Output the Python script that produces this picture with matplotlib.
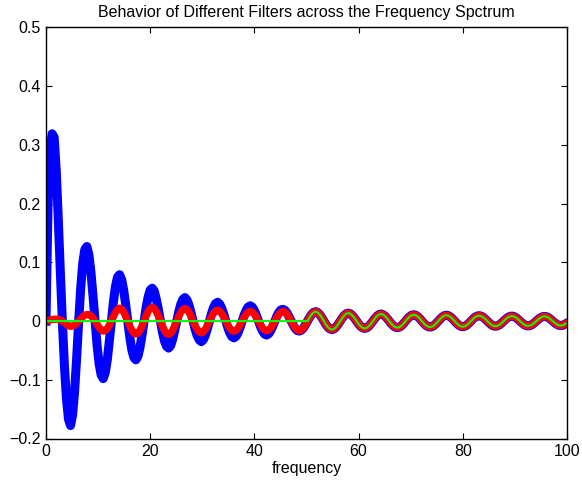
import numpy as np
import matplotlib
matplotlib.use("Agg")
import matplotlib.pyplot as plt

plt.rcParams['font.family'] = ['Liberation Sans', 'DejaVu Sans']

# sample positions along the frequency axis
freq = np.linspace(0, 100, 256)

# blue filter, first half (x = 0 .. ~50)
blue_head = [
    0, 0.20, 0.29, 0.319, 0.313, 0.257, 0.175, 0.085,
    0, -0.075, -0.132, -0.167, -0.178, -0.160, -0.120, -0.063,
    0, 0.057, 0.099, 0.122, 0.127, 0.113, 0.083, 0.043,
    0, -0.041, -0.073, -0.092, -0.098, -0.088, -0.066, -0.034,
    0, 0.033, 0.059, 0.075, 0.079, 0.071, 0.053, 0.028,
    0, -0.027, -0.049, -0.062, -0.066, -0.060, -0.045, -0.024,
    0, 0.023, 0.041, 0.053, 0.056, 0.051, 0.037, 0.020,
    0, -0.019, -0.034, -0.043, -0.046, -0.042, -0.031, -0.016,
    0, 0.016, 0.029, 0.037, 0.040, 0.036, 0.027, 0.014,
    0, -0.014, -0.025, -0.032, -0.035, -0.032, -0.024, -0.013,
    0, 0.0126, 0.023, 0.0298, 0.032, 0.0291, 0.0219, 0.0117,
    0, -0.0113, -0.0205, -0.0266, -0.0285, -0.0261, -0.0198, -0.0106,
    0, 0.0103, 0.0187, 0.0242, 0.026, 0.0237, 0.0179, 0.0096,
    0, -0.0094, -0.0172, -0.0222, -0.0238, -0.0217, -0.0164, -0.0088,
    0, 0.0084, 0.0151, 0.019, 0.020, 0.0181, 0.0136, 0.0072,
    0, -0.0069, -0.0126, -0.0162, -0.017, -0.0155, -0.0117, -0.0063,
]

# red filter, first half
red_head = [
    0, 0.0008, 0.0018, 0.0028, 0.003, 0.0032, 0.0028, 0.0019,
    0, -0.0027, -0.0057, -0.0079, -0.009, -0.0086, -0.0068, -0.0038,
    0, 0.004, 0.0076, 0.0101, 0.011, 0.0109, 0.0088, 0.0051,
    0, -0.0057, -0.011, -0.0151, -0.017, -0.0162, -0.0127, -0.0071,
    0, 0.0077, 0.0148, 0.0199, 0.022, 0.0203, 0.0156, 0.0084,
    0, -0.0084, -0.0156, -0.0203, -0.022, -0.0205, -0.0158, -0.0087,
    0, 0.0088, 0.0164, 0.0215, 0.0233, 0.0214, 0.0163, 0.0088,
    0, -0.0088, -0.0162, -0.0212, -0.0228, -0.0209, -0.0158, -0.0085,
    0, 0.0083, 0.0153, 0.0199, 0.0214, 0.0196, 0.0148, 0.008,
    0, -0.0079, -0.0144, -0.0187, -0.020, -0.0183, -0.0139, -0.0074,
    0, 0.0073, 0.0133, 0.0173, 0.0185, 0.017, 0.0129, 0.0069,
    0, -0.0069, -0.0126, -0.0163, -0.0175, -0.0161, -0.0122, -0.0066,
    0, 0.0065, 0.0119, 0.0155, 0.0168, 0.0155, 0.0118, 0.0064,
    0, -0.0064, -0.0117, -0.0153, -0.0166, -0.0153, -0.0117, -0.0064,
    0, 0.0063, 0.0117, 0.0152, 0.0165, 0.0152, 0.0117, 0.0063,
    0, -0.0063, -0.0117, -0.0152, -0.0165, -0.0152, -0.0117, -0.0063,
]

# common tail shared by all three filters (x = ~50 .. 100)
tail = [
    0, 0.0062, 0.0115, 0.0149, 0.016, 0.0146, 0.011, 0.0059,
    0, -0.0057, -0.0105, -0.0135, -0.0145, -0.0132, -0.010, -0.0054,
    0, 0.0053, 0.0097, 0.0126, 0.0135, 0.0124, 0.0093, 0.005,
    0, -0.0049, -0.009, -0.0116, -0.0125, -0.0115, -0.0087, -0.0047,
    0, 0.0046, 0.0085, 0.0111, 0.012, 0.0109, 0.0083, 0.0044,
    0, -0.0044, -0.008, -0.0104, -0.0112, -0.0103, -0.0078, -0.0042,
    0, 0.0042, 0.0077, 0.010, 0.0108, 0.0099, 0.0075, 0.004,
    0, -0.004, -0.0073, -0.0095, -0.0102, -0.0094, -0.0071, -0.0039,
    0, 0.0038, 0.0071, 0.0092, 0.0100, 0.0091, 0.007, 0.0038,
    0, -0.0037, -0.0069, -0.0089, -0.0096, -0.0088, -0.0067, -0.0036,
    0, 0.0036, 0.0066, 0.0085, 0.0092, 0.0084, 0.0064, 0.0034,
    0, -0.0034, -0.0063, -0.0082, -0.0089, -0.0081, -0.0062, -0.0033,
    0, 0.0033, 0.0061, 0.0079, 0.0085, 0.0079, 0.0059, 0.0032,
    0, -0.0032, -0.0059, -0.0077, -0.0083, -0.0076, -0.0058, -0.0031,
    0, 0.0031, 0.0057, 0.0074, 0.008, 0.0074, 0.0056, 0.003,
    0, -0.003, -0.0055, -0.0072, -0.0078, -0.0071, -0.0054, -0.0035,
]

# green filter is flat until the cutoff
green_head = [0.0] * 128

blue = np.array(blue_head + tail)
red = np.array(red_head + tail)
green = np.array(green_head + tail)

x_ticks = [0, 20, 40, 60, 80, 100]
y_ticks = [-0.2, -0.1, 0, 0.1, 0.2, 0.3, 0.4, 0.5]
y_tick_labels = ['\u22120.2', '\u22120.1', '0', '0.1', '0.2', '0.3', '0.4', '0.5']

fig = plt.figure(figsize=(5.82, 4.86), dpi=100)
ax = fig.add_axes([46 / 582, 1 - 438.5 / 486, 521 / 582, 411 / 486])

ax.plot(freq, blue, color='#0000ff', lw=6.5, solid_joinstyle='round')
ax.plot(freq, red, color='#ff0000', lw=5.3, solid_joinstyle='round')
ax.plot(freq, green, color='#00ff00', lw=1.5)

ax.set_xlim(0, 100)
ax.set_ylim(-0.2, 0.5)
ax.set_xticks(x_ticks)
ax.set_yticks(y_ticks)
ax.set_yticklabels(y_tick_labels)
ax.tick_params(direction='in', length=4, width=0.8, top=True, right=True,
               labelsize=11.5, pad=4)
for s in ax.spines.values():
    s.set_linewidth(1.0)

ax.set_xlabel('frequency', fontsize=11.5, labelpad=1.5)
ax.set_title('Behavior of Different Filters across the Frequency Spctrum',
             fontsize=11.5, pad=7.5)

fig.savefig('out.png', dpi=100)
